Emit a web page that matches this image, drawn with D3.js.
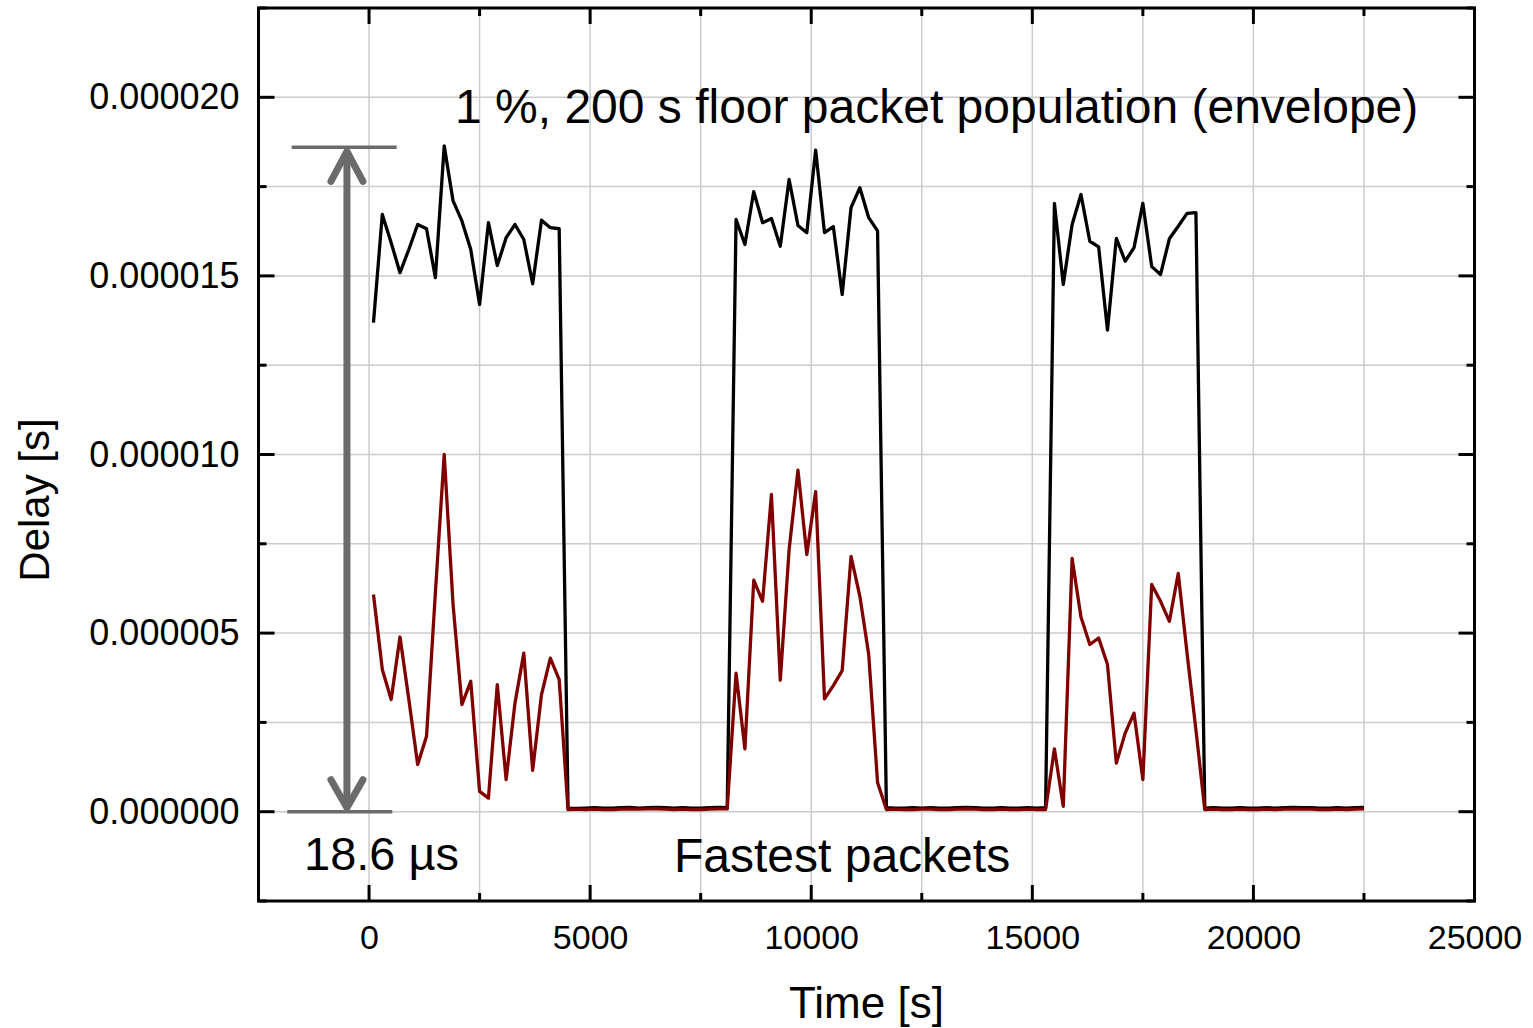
<!DOCTYPE html>
<html>
<head>
<meta charset="utf-8">
<script src="https://cdn.jsdelivr.net/npm/d3@7"></script>
<style>
  body { margin: 0; background: #fff; }
  text { font-family: 'Liberation Sans', Arial, sans-serif; fill: #000; }
</style>
</head>
<body>
<svg id="chart" width="1533" height="1028"></svg>
<script>
/******************* Data *******************************/
var times = [
  100, 300, 500, 700, 900, 1100, 1300, 1500, 1700, 1900,
  2100, 2300, 2500, 2700, 2900, 3100, 3300, 3500, 3700, 3900,
  4100, 4300, 4500, 4700, 4900, 5100, 5300, 5500, 5700, 5900,
  6100, 6300, 6500, 6700, 6900, 7100, 7300, 7500, 7700, 7900,
  8100, 8300, 8500, 8700, 8900, 9100, 9300, 9500, 9700, 9900,
  10100, 10300, 10500, 10700, 10900, 11100, 11300, 11500, 11700, 11900,
  12100, 12300, 12500, 12700, 12900, 13100, 13300, 13500, 13700, 13900,
  14100, 14300, 14500, 14700, 14900, 15100, 15300, 15500, 15700, 15900,
  16100, 16300, 16500, 16700, 16900, 17100, 17300, 17500, 17700, 17900,
  18100, 18300, 18500, 18700, 18900, 19100, 19300, 19500, 19700, 19900,
  20100, 20300, 20500, 20700, 20900, 21100, 21300, 21500, 21700, 21900,
  22100, 22300, 22500
];

// delay values in microseconds
var envelope = [
  13.69, 16.72, 15.93, 15.09, 15.74, 16.44, 16.32, 14.95, 18.64, 17.10,
  16.54, 15.74, 14.20, 16.49, 15.29, 16.07, 16.44, 16.02, 14.78, 16.56,
  16.35, 16.32,
  0.10, 0.09, 0.10, 0.11, 0.10, 0.10, 0.11, 0.12, 0.10, 0.11,
  0.12, 0.11, 0.10, 0.11, 0.10, 0.10, 0.11, 0.12, 0.11,
  16.58, 15.88, 17.36, 16.49, 16.61, 15.83, 17.70, 16.41, 16.21, 18.52,
  16.21, 16.38, 14.48, 16.91, 17.47, 16.63, 16.26,
  0.11, 0.10, 0.10, 0.11, 0.10, 0.11, 0.10, 0.10, 0.11, 0.12,
  0.11, 0.10, 0.10, 0.11, 0.10, 0.10, 0.11, 0.10, 0.11,
  17.03, 14.76, 16.44, 17.28, 15.97, 15.81, 13.48, 16.05, 15.41, 15.79,
  17.03, 15.26, 15.04, 16.04, 16.39, 16.75, 16.77,
  0.10, 0.11, 0.10, 0.10, 0.11, 0.10, 0.10, 0.11, 0.10, 0.11,
  0.12, 0.11, 0.11, 0.10, 0.10, 0.11, 0.10, 0.11, 0.12
];

var fastest = [
  6.08, 3.98, 3.14, 4.89, 3.14, 1.32, 2.11, 6.13, 10.00, 5.80,
  3.00, 3.65, 0.57, 0.38, 3.56, 0.90, 3.04, 4.44, 1.16, 3.28,
  4.30, 3.70,
  0.06, 0.07, 0.06, 0.07, 0.06, 0.06, 0.07, 0.08, 0.07, 0.08,
  0.08, 0.07, 0.06, 0.07, 0.06, 0.06, 0.07, 0.08, 0.08,
  3.88, 1.76, 6.48, 5.89, 8.88, 3.68, 7.34, 9.56, 7.20, 8.96,
  3.16, 3.53, 3.95, 7.15, 6.03, 4.40, 0.82,
  0.06, 0.07, 0.06, 0.06, 0.07, 0.07, 0.06, 0.06, 0.07, 0.08,
  0.07, 0.06, 0.06, 0.07, 0.06, 0.06, 0.07, 0.06, 0.06,
  1.76, 0.15, 7.09, 5.45, 4.68, 4.86, 4.12, 1.36, 2.20, 2.76,
  0.90, 6.36, 5.89, 5.33, 6.67, 4.43, 2.29,
  0.06, 0.07, 0.06, 0.06, 0.07, 0.06, 0.06, 0.07, 0.06, 0.07,
  0.08, 0.07, 0.07, 0.06, 0.06, 0.07, 0.06, 0.07, 0.08
];

var xMajorTicks = [0, 5000, 10000, 15000, 20000, 25000];
var xMinorTicks = [-2500, 2500, 7500, 12500, 17500, 22500];
var yMajorTicks = [0, 5, 10, 15, 20];
var yMinorTicks = [-2.5, 2.5, 7.5, 12.5, 17.5, 22.5];

var titleText = '1 %, 200 s floor packet population (envelope)';
var fastText = 'Fastest packets';
var spanText = '18.6 \u00b5s';
var spanValue = 18.6;

/******************* Chart ******************************/
(function() {
  var plotLeft = 258.5, plotRight = 1474.5, plotTop = 8, plotBottom = 901;

  var x = d3.scaleLinear().domain([-2500, 25000]).range([plotLeft, plotRight]);
  var y = d3.scaleLinear().domain([-2.5, 22.5]).range([plotBottom, plotTop]);

  var svg = d3.select('#chart');

  // grid
  var grid = svg.append('g').attr('stroke', '#cccccc').attr('stroke-width', 1.5);
  grid.selectAll('line.vx')
    .data(xMajorTicks.concat(xMinorTicks))
    .enter().append('line')
    .attr('x1', function(d) { return x(d); })
    .attr('x2', function(d) { return x(d); })
    .attr('y1', plotTop).attr('y2', plotBottom);
  grid.selectAll('line.hy')
    .data(yMajorTicks.concat(yMinorTicks))
    .enter().append('line')
    .attr('y1', function(d) { return y(d); })
    .attr('y2', function(d) { return y(d); })
    .attr('x1', plotLeft).attr('x2', plotRight);

  // series
  var rows = times.map(function(t, i) {
    return { t: t, env: envelope[i], fast: fastest[i] };
  });

  var lineEnv = d3.line()
    .x(function(d) { return x(d.t); })
    .y(function(d) { return y(d.env); });
  var lineFast = d3.line()
    .x(function(d) { return x(d.t); })
    .y(function(d) { return y(d.fast); });

  svg.append('path')
    .datum(rows)
    .attr('d', lineEnv)
    .attr('fill', 'none')
    .attr('stroke', '#000')
    .attr('stroke-width', 3.3)
    .attr('stroke-linejoin', 'round');

  svg.append('path')
    .datum(rows)
    .attr('d', lineFast)
    .attr('fill', 'none')
    .attr('stroke', '#800000')
    .attr('stroke-width', 3.3)
    .attr('stroke-linejoin', 'round');

  // axes, ticks pointing inward on all four sides
  var xBottom = d3.axisBottom(x).tickValues(xMajorTicks).tickSize(0).tickPadding(24)
    .tickFormat(d3.format('d'));
  var yLeft = d3.axisLeft(y).tickValues(yMajorTicks).tickSize(0).tickPadding(19)
    .tickFormat(function(d) { return (d * 1e-6).toFixed(6); });

  var gx = svg.append('g').attr('transform', 'translate(0,' + plotBottom + ')').call(xBottom);
  var gy = svg.append('g').attr('transform', 'translate(' + plotLeft + ',0)').call(yLeft);
  gx.select('.domain').remove();
  gy.select('.domain').remove();
  gx.selectAll('text').attr('font-size', 34).attr('fill', '#000')
    .style('font-family', "'Liberation Sans', Arial, sans-serif");
  gy.selectAll('text').attr('font-size', 36).attr('fill', '#000')
    .style('font-family', "'Liberation Sans', Arial, sans-serif");

  var ticks = svg.append('g').attr('stroke', '#000').attr('stroke-width', 3);
  function tickMarks(vals, len, isX) {
    vals.forEach(function(v) {
      if (isX) {
        ticks.append('line').attr('x1', x(v)).attr('x2', x(v)).attr('y1', plotBottom).attr('y2', plotBottom - len);
        ticks.append('line').attr('x1', x(v)).attr('x2', x(v)).attr('y1', plotTop).attr('y2', plotTop + len);
      } else {
        ticks.append('line').attr('y1', y(v)).attr('y2', y(v)).attr('x1', plotLeft).attr('x2', plotLeft + len);
        ticks.append('line').attr('y1', y(v)).attr('y2', y(v)).attr('x1', plotRight).attr('x2', plotRight - len);
      }
    });
  }
  tickMarks(xMajorTicks, 16, true);
  tickMarks(xMinorTicks, 8, true);
  tickMarks(yMajorTicks, 16, false);
  tickMarks(yMinorTicks, 8, false);

  svg.append('rect')
    .attr('x', plotLeft).attr('y', plotTop)
    .attr('width', plotRight - plotLeft).attr('height', plotBottom - plotTop)
    .attr('fill', 'none').attr('stroke', '#000').attr('stroke-width', 3);

  // axis titles
  svg.append('text')
    .attr('x', (plotLeft + plotRight) / 2).attr('y', 1018)
    .attr('text-anchor', 'middle').attr('font-size', 44)
    .text('Time [s]');
  svg.append('text')
    .attr('transform', 'translate(49,500) rotate(-90)')
    .attr('text-anchor', 'middle').attr('font-size', 42)
    .text('Delay [s]');

  // span annotation
  var ax = x(-500);
  var ann = svg.append('g').attr('stroke', '#6b6b6b').attr('fill', 'none');
  ann.append('line')
    .attr('x1', x(-1750)).attr('x2', x(625))
    .attr('y1', y(spanValue)).attr('y2', y(spanValue))
    .attr('stroke-width', 3.5);
  ann.append('line')
    .attr('x1', x(-1850)).attr('x2', x(525))
    .attr('y1', y(0)).attr('y2', y(0))
    .attr('stroke-width', 3.5);
  ann.append('line')
    .attr('x1', ax).attr('x2', ax)
    .attr('y1', y(spanValue) + 6).attr('y2', y(0) - 6)
    .attr('stroke-width', 7);
  ann.append('path')
    .attr('d', 'M' + (ax - 16) + ',' + (y(spanValue) + 34) + 'L' + ax + ',' + (y(spanValue) + 4) +
      'L' + (ax + 16) + ',' + (y(spanValue) + 34))
    .attr('stroke-width', 7).attr('stroke-linecap', 'round').attr('stroke-linejoin', 'round');
  ann.append('path')
    .attr('d', 'M' + (ax - 16) + ',' + (y(0) - 32) + 'L' + ax + ',' + (y(0) - 4) +
      'L' + (ax + 16) + ',' + (y(0) - 32))
    .attr('stroke-width', 7).attr('stroke-linecap', 'round').attr('stroke-linejoin', 'round');

  // labels
  svg.append('text').attr('x', 455).attr('y', 123).attr('font-size', 48).text(titleText);
  svg.append('text').attr('x', 674).attr('y', 872).attr('font-size', 48).text(fastText);
  svg.append('text').attr('x', 304).attr('y', 870).attr('font-size', 47).text(spanText);
})();
</script>
</body>
</html>
